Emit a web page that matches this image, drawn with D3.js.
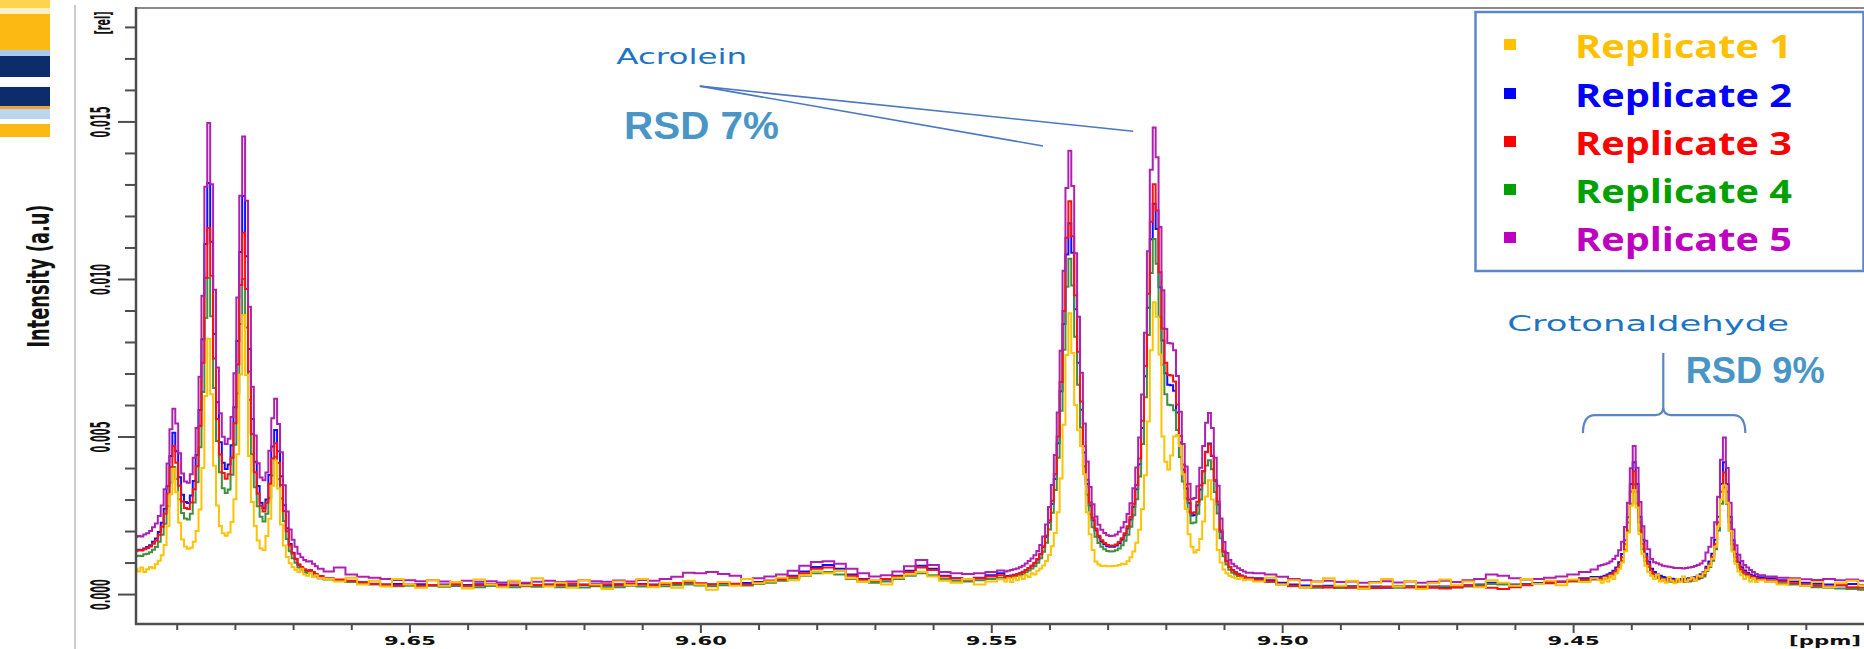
<!DOCTYPE html>
<html><head><meta charset="utf-8">
<script src="https://cdn.jsdelivr.net/npm/d3@7"></script>
<style>html,body{margin:0;padding:0;background:#fff;overflow:hidden}svg{display:block}</style>
</head><body>
<svg id="chart" width="1864" height="649"></svg>
<script>
// ---------------- DATA ----------------
// chemical shift grid [ppm]
const ppm = [
9.697,9.6965,9.696,9.6955,9.695,9.6945,9.694,9.6935,9.693,9.6925,9.692,9.6915,9.691,9.6905,9.69,9.6895,9.689,9.6885,9.688,9.6875,9.687,9.6865,9.686,9.6855,9.685,9.6845,9.684,9.6835,9.683,9.6825,9.682,9.6815,9.681,9.6805,9.68,9.6795,9.679,9.6785,9.678,9.6775,9.677,9.6765,9.676,9.6755,9.675,9.6745,9.674,9.6735,9.673,9.6725,9.672,9.6715,9.671,9.6705,9.67,9.6695,9.669,9.6685,9.668,9.6675,9.667,9.6665,9.666,9.6655,
9.664,9.662,9.66,9.658,9.656,9.654,9.652,9.65,9.648,9.646,9.644,9.642,9.64,9.638,9.636,9.634,9.632,9.63,9.628,9.626,9.624,9.622,9.62,9.618,9.616,9.614,9.612,9.61,9.608,9.606,9.604,9.602,9.6,9.598,9.596,9.594,9.592,9.59,9.588,9.586,9.584,9.582,9.58,9.578,9.576,9.574,9.572,9.57,9.568,9.566,9.564,9.562,9.56,9.558,9.556,9.554,9.552,9.55,9.548,
9.5475,9.547,9.5465,9.546,9.5455,9.545,9.5445,9.544,9.5435,9.543,9.5425,9.542,9.5415,9.541,9.5405,9.54,9.5395,9.539,9.5385,9.538,9.5375,9.537,9.5365,9.536,9.5355,9.535,9.5345,9.534,9.5335,9.533,9.5325,9.532,9.5315,9.531,9.5305,9.53,9.5295,9.529,9.5285,9.528,9.5275,9.527,9.5265,9.526,9.5255,9.525,9.5245,9.524,9.5235,9.523,9.5225,9.522,9.5215,9.521,9.5205,9.52,9.5195,9.519,9.5185,9.518,9.5175,9.517,9.5165,9.516,9.5155,9.515,9.5145,9.514,9.5135,9.513,9.5125,9.512,9.5115,9.511,9.5105,9.51,9.5095,9.509,9.5085,9.508,9.5075,9.507,9.5065,9.506,
9.504,9.502,9.5,9.498,9.496,9.494,9.492,9.49,9.488,9.486,9.484,9.482,9.48,9.478,9.476,9.474,9.472,9.47,9.468,9.466,9.464,9.462,9.46,9.458,9.456,9.454,9.452,9.45,9.448,9.446,
9.4455,9.445,9.4445,9.444,9.4435,9.443,9.4425,9.442,9.4415,9.441,9.4405,9.44,9.4395,9.439,9.4385,9.438,9.4375,9.437,9.4365,9.436,9.4355,9.435,9.4345,9.434,9.4335,9.433,9.4325,9.432,9.4315,9.431,9.4305,9.43,9.4295,9.429,9.4285,9.428,9.4275,9.427,9.4265,9.426,9.4255,9.425,9.4245,9.424,9.4235,9.423,9.4225,9.422,9.4215,9.421,9.4205,9.42,9.4195,9.419,9.4185,9.418,
9.416,9.414,9.412,9.41,9.408,9.406,9.404,9.402,9.4
];

// intensities, stored in units of 1e-5 [rel]
const INTENSITY_UNIT = 1e-5;

const replicate1 = [ // yellow
80,72,84,70,79,86,82,95,106,123,156,215,317,398,323,226,173,151,144,147,166,200,268,400,629,810,634,407,281,216,193,185,195,229,301,444,697,886,695,438,292,216,170,145,140,184,239,344,424,335,221,154,118,98,86,76,70,80,62,58,68,54,60,51,
48,40,52,30,42,24,48,30,20,44,26,38,18,46,30,22,42,28,50,24,36,20,44,30,16,40,28,48,22,36,20,42,30,14,38,26,48,34,40,52,44,60,72,66,74,50,38,44,30,52,62,70,56,42,36,48,30,40,46,
40,50,38,52,44,56,48,60,54,66,62,74,81,91,105,124,152,194,260,367,537,759,891,765,600,520,470,380,260,190,140,103,94,89,90,88,88,89,90,92,96,95,104,117,135,163,204,270,377,548,774,926,880,760,500,420,395,440,500,505,470,380,270,190,150,132,140,175,230,310,361,300,205,140,100,78,66,58,54,50,48,52,44,46,
40,52,30,44,22,38,50,26,42,18,36,48,24,40,16,34,46,28,40,22,44,36,26,48,32,42,28,46,38,50,
44,36,52,40,58,48,66,80,100,136,195,280,330,275,190,128,90,70,58,48,62,40,46,36,54,42,34,48,38,56,40,46,52,44,58,56,66,76,90,112,150,215,300,345,290,200,135,96,72,60,48,56,40,50,38,44,
40,30,46,26,38,22,34,42,28
];
const replicate2 = [ // blue
138,141,140,145,149,155,166,176,197,226,271,342,438,512,453,371,315,292,289,313,359,441,584,809,1111,1305,1118,825,609,482,417,397,411,472,593,803,1086,1263,1072,778,556,420,343,290,272,300,378,468,521,453,374,282,209,159,131,111,92,82,75,70,71,64,57,50,
48,44,40,36,33,30,32,28,31,27,30,26,29,31,27,30,28,32,29,27,31,28,30,33,29,31,28,32,30,34,31,36,33,30,34,31,35,38,42,48,58,72,86,92,80,62,48,40,46,58,74,90,80,58,50,48,52,60,66,
56,57,59,61,63,66,71,76,83,90,98,110,126,149,181,227,286,365,479,644,857,1078,1177,1083,904,734,585,449,349,281,234,202,180,166,158,152,150,150,154,161,172,187,208,237,277,333,412,527,691,909,1126,1239,1159,974,805,701,664,663,645,576,481,395,335,289,249,251,282,332,390,452,478,438,359,284,197,134,104,86,76,69,64,59,56,52,
50,44,36,30,27,24,26,22,25,21,24,20,23,25,22,24,21,25,28,30,36,34,30,32,35,38,40,44,50,54,
53,55,58,62,67,74,84,101,127,171,244,349,418,349,245,172,128,103,80,70,63,58,54,52,50,49,48,48,48,48,49,50,52,54,58,63,69,87,103,128,172,245,349,418,349,245,171,127,101,85,75,68,62,58,55,53,
50,44,40,36,33,30,28,32,29
];
const replicate3 = [ // red
136,139,138,142,146,151,160,170,188,214,255,318,403,470,417,344,294,273,270,291,333,406,533,734,1004,1162,1010,748,556,443,384,366,380,433,542,729,981,1147,968,706,508,387,319,280,262,290,350,430,479,416,346,264,199,155,129,112,95,86,79,75,76,70,64,57,
50,46,42,38,32,30,27,30,26,29,27,31,26,28,32,27,30,26,29,31,28,33,29,27,31,28,33,30,27,32,35,38,34,31,36,33,30,36,42,46,56,66,80,84,74,58,46,42,48,56,70,84,76,56,50,46,50,56,60,
54,55,57,60,62,65,70,76,83,90,99,111,128,152,186,234,296,380,500,673,898,1131,1247,1136,948,769,611,469,363,291,242,208,185,171,162,156,153,154,157,165,177,193,215,245,287,346,430,550,724,953,1182,1301,1217,1021,843,734,695,694,675,602,502,411,348,300,257,260,293,345,390,450,475,440,362,294,202,136,105,86,75,68,63,57,54,50,
46,40,32,26,22,25,21,24,20,23,19,22,25,21,24,20,18,22,26,24,20,16,22,28,32,34,38,42,46,48,
48,50,53,57,61,68,77,93,117,158,227,325,390,325,228,159,118,95,72,63,56,51,48,46,44,43,42,42,42,42,43,44,46,48,51,56,62,80,95,118,159,228,325,386,325,228,158,117,93,78,69,62,57,53,50,48,
44,40,34,30,26,24,28,22,20
];
const replicate4 = [ // green
120,122,121,126,128,133,141,149,166,188,223,279,353,403,365,301,257,240,237,255,291,355,466,641,876,1004,882,654,486,387,336,321,332,379,474,637,857,1000,846,617,444,339,279,245,230,255,306,376,436,364,303,232,175,136,114,99,84,77,70,67,68,62,57,51,
46,42,38,34,30,28,25,27,24,26,23,27,24,22,26,24,22,25,23,26,22,24,21,25,23,22,26,24,27,25,28,30,27,25,28,30,27,32,36,42,50,58,66,70,62,48,40,36,40,48,58,66,60,48,42,40,44,48,52,
50,51,53,55,57,60,63,69,75,81,88,99,114,134,163,205,258,330,433,582,775,975,1064,979,817,664,529,406,315,253,212,182,162,150,142,137,135,136,139,145,155,169,188,214,250,301,373,476,625,822,1019,1127,1048,880,728,634,601,599,583,521,435,357,303,261,225,227,255,300,352,408,425,396,324,256,177,120,94,77,68,62,57,53,50,47,
44,38,30,25,22,20,23,19,22,18,21,24,20,23,19,22,25,21,24,28,32,30,27,30,33,36,38,40,44,46,
45,46,49,52,56,62,70,84,105,141,201,287,348,287,202,142,106,86,65,56,51,47,43,42,40,39,38,38,38,38,39,40,42,43,47,51,56,73,86,106,142,202,287,339,287,202,141,105,84,71,63,57,52,49,46,45,
40,34,30,26,22,20,18,16,14
];
const replicate5 = [ // purple
181,184,183,189,193,200,212,224,248,281,333,414,523,588,541,447,383,357,353,380,433,527,690,947,1293,1495,1301,966,719,574,499,476,493,562,701,941,1264,1452,1248,912,658,503,415,370,361,386,455,558,620,540,450,345,262,205,172,150,128,117,108,103,104,96,88,80,
72,84,62,55,52,48,45,44,41,44,40,38,42,39,41,37,40,36,39,42,38,40,44,41,39,43,40,45,42,48,55,68,66,70,64,58,48,50,56,62,74,90,102,104,96,80,66,56,60,72,88,108,92,70,66,64,66,70,75,
72,74,76,79,81,85,90,97,105,113,123,137,156,183,221,276,346,441,576,772,1026,1289,1407,1295,1082,880,702,541,421,340,285,246,220,204,194,187,184,185,189,198,211,229,254,288,336,402,497,633,829,1088,1347,1481,1386,1165,964,841,797,795,774,692,579,476,405,350,302,305,342,401,470,544,575,527,433,344,240,165,130,108,96,88,82,76,72,68,
66,62,55,48,44,40,42,38,40,36,38,41,37,40,36,39,42,38,44,48,62,58,50,46,48,52,56,62,70,78,
90,92,95,98,103,111,122,139,166,213,290,399,470,401,292,215,169,142,111,101,98,94,90,88,87,85,83,83,83,81,83,84,86,89,92,97,106,132,150,179,228,309,426,497,400,290,205,155,125,105,92,84,76,70,64,60,
56,52,50,47,45,48,44,46,42
];

const seriesNames = ["Replicate 1","Replicate 2","Replicate 3","Replicate 4","Replicate 5"];
const seriesValues = [replicate1, replicate2, replicate3, replicate4, replicate5];
const lineColors = ["#ffc200","#1010ff","#ff1010","#3f8f3f","#b020b0"];
const legendColors = ["#ffc000","#0000ff","#ff0000","#00a000","#c000c0"];
const drawOrder = [1, 3, 2, 4, 0];

const yMajorTicks = [0, 0.005, 0.010, 0.015];
const yMinorTicks = [0.001,0.002,0.003,0.004,0.006,0.007,0.008,0.009,0.011,0.012,0.013,0.014,0.016,0.017,0.018];
const xMajorTicks = [9.65, 9.60, 9.55, 9.50, 9.45];
const xMinorTicks = [9.69,9.68,9.67,9.66,9.64,9.63,9.62,9.61,9.59,9.58,9.57,9.56,9.54,9.53,9.52,9.51,9.49,9.48,9.47,9.46,9.44,9.43,9.42,9.41];

// annotations (data coordinates: ppm, rel)
const acrolein = {label:"Acrolein", rsd:"RSD 7%", labelAt:[9.6032,0.01682], rsdAt:[9.5998,0.01444],
                  from:[9.6001,0.01612], to:[[9.5411,0.01422],[9.5256,0.01469]]};
const crotonaldehyde = {label:"Crotonaldehyde", rsd:"RSD 9%", labelAt:[9.4371,0.00835], rsdAt:[9.4187,0.0067],
                  left:9.4483, right:9.4204, mid:9.4345, bottom:0.00511, bar:0.00568, top:0.00765};

[replicate1,replicate2,replicate3,replicate4,replicate5].forEach((s,i)=>{ if(s.length!==ppm.length) console.warn("length mismatch", i, s.length, ppm.length); });

// ---------------- DRAW ----------------
const svg = d3.select("#chart");
const plot = {left:136, right:1864, top:8, bottom:624};
const x = d3.scaleLinear().domain([9.697, 9.400]).range([plot.left, plot.right]);
const y = d3.scaleLinear().domain([-0.00095, 0.0186]).range([plot.bottom, plot.top]);

// left decorative stripes
const stripes = [[0,8,"#ffd34d"],[8,14,"#fff1c4"],[14,50,"#fdb913"],[50,56,"#a9c9e8"],[56,77,"#0d2c6c"],[77,87,"#ffffff"],[87,106,"#0d2c6c"],[106,109,"#f2a33a"],[109,119,"#bcd6ee"],[119,124,"#ffffff"],[124,137,"#fdb913"]];
svg.append("g").selectAll("rect").data(stripes).join("rect")
  .attr("x",0).attr("width",50).attr("y",d=>d[0]).attr("height",d=>d[1]-d[0]).attr("fill",d=>d[2]);
svg.append("line").attr("x1",75).attr("x2",75).attr("y1",5).attr("y2",649).attr("stroke","#bdbdbd").attr("stroke-width",1.5);

const narrowFont = "'DejaVu Sans Condensed','Liberation Sans Narrow','Liberation Sans',sans-serif";

// y-axis title
svg.append("text").attr("transform","translate(49,276) rotate(-90)")
  .attr("text-anchor","middle").attr("font-family",narrowFont).attr("font-weight","bold")
  .attr("font-size",30).attr("fill","#111").attr("textLength",143).attr("lengthAdjust","spacingAndGlyphs")
  .text("Intensity (a.u)");

// clip
svg.append("defs").append("clipPath").attr("id","plotclip").append("rect")
  .attr("x",plot.left+1).attr("y",plot.top).attr("width",plot.right-plot.left).attr("height",plot.bottom-plot.top-1);

// spectra
const line = d3.line().x((d,i)=>x(ppm[i])).y(d=>y(d*INTENSITY_UNIT)).curve(d3.curveStep);
const gLines = svg.append("g").attr("clip-path","url(#plotclip)");
drawOrder.forEach(si=>{
  gLines.append("path").datum(seriesValues[si]).attr("d",line)
    .attr("fill","none").attr("stroke",lineColors[si]).attr("stroke-width",2).attr("stroke-linejoin","miter");
});

// axes
const axisColor = "#4d4d4d";
const gy = svg.append("g").attr("transform",`translate(${plot.left},0)`);
gy.call(d3.axisLeft(y).tickValues(yMinorTicks).tickSize(11).tickSizeOuter(0).tickFormat(""));
gy.select(".domain").remove();
const gy2 = svg.append("g").attr("transform",`translate(${plot.left},0)`);
gy2.call(d3.axisLeft(y).tickValues(yMajorTicks).tickSize(18).tickSizeOuter(0).tickFormat(d3.format(".3f")));
gy2.select(".domain").remove();
gy2.selectAll("text").attr("x",null).attr("dy",null).attr("text-anchor","middle")
  .attr("transform","translate(-26,0) rotate(-90)")
  .attr("font-family",narrowFont).attr("font-weight","bold").attr("font-size",26).attr("fill","#111")
  .attr("textLength",31).attr("lengthAdjust","spacingAndGlyphs");
[gy,gy2].forEach(g=>g.selectAll(".tick line").attr("stroke",axisColor).attr("stroke-width",2));
svg.append("text").attr("transform",`translate(${plot.left-26},23) rotate(-90) scale(1,1.4)`).attr("text-anchor","middle")
  .attr("font-family",narrowFont).attr("font-weight","bold").attr("font-size",15).attr("fill","#111")
  .attr("textLength",23).attr("lengthAdjust","spacingAndGlyphs").text("[rel]");

const gx = svg.append("g").attr("transform",`translate(0,${plot.bottom})`);
gx.call(d3.axisBottom(x).tickValues(xMinorTicks).tickSize(6).tickSizeOuter(0).tickFormat(""));
gx.select(".domain").remove();
const gx2 = svg.append("g").attr("transform",`translate(0,${plot.bottom})`);
gx2.call(d3.axisBottom(x).tickValues(xMajorTicks).tickSize(9).tickSizeOuter(0).tickFormat(d3.format(".2f")));
gx2.select(".domain").remove();
gx2.selectAll("text").attr("y",21).attr("dy",null)
  .attr("font-family","'DejaVu Sans',sans-serif").attr("font-weight","bold").attr("font-size",13).attr("fill","#111")
  .attr("textLength",52).attr("lengthAdjust","spacingAndGlyphs");
[gx,gx2].forEach(g=>g.selectAll(".tick line").attr("stroke",axisColor).attr("stroke-width",2));
svg.append("text").attr("x",1825).attr("y",plot.bottom+21).attr("text-anchor","middle")
  .attr("font-family","'DejaVu Sans',sans-serif").attr("font-weight","bold").attr("font-size",13).attr("fill","#111")
  .attr("textLength",72).attr("lengthAdjust","spacingAndGlyphs").text("[ppm]");

// frame
svg.append("line").attr("x1",plot.left).attr("x2",plot.right).attr("y1",plot.top).attr("y2",plot.top).attr("stroke","#8a8a8a").attr("stroke-width",2);
svg.append("line").attr("x1",plot.left).attr("x2",plot.left).attr("y1",plot.top-1).attr("y2",plot.bottom+1).attr("stroke",axisColor).attr("stroke-width",2.5);
svg.append("line").attr("x1",plot.left-1).attr("x2",plot.right).attr("y1",plot.bottom).attr("y2",plot.bottom).attr("stroke",axisColor).attr("stroke-width",2.5);

// annotations
const labelFont = "'DejaVu Sans',Verdana,sans-serif";
const rsdFont = "'Liberation Sans',Arial,sans-serif";
const labelColor = "#1c74c2", rsdColor = "#4996c6", pointerColor = "#4a78c2";
function label(txt,at,len){
  svg.append("text").attr("x",x(at[0])).attr("y",y(at[1])).attr("text-anchor","middle")
    .attr("font-family",labelFont).attr("font-size",22).attr("fill",labelColor)
    .attr("textLength",len).attr("lengthAdjust","spacingAndGlyphs").text(txt);
}
function rsd(txt,at,len,size){
  svg.append("text").attr("x",x(at[0])).attr("y",y(at[1])).attr("text-anchor","middle")
    .attr("font-family",rsdFont).attr("font-weight","bold").attr("font-size",size).attr("fill",rsdColor)
    .attr("textLength",len).attr("lengthAdjust","spacingAndGlyphs").text(txt);
}
label(acrolein.label, acrolein.labelAt, 131);
rsd(acrolein.rsd, acrolein.rsdAt, 155, 39);
acrolein.to.forEach(t=>{
  svg.append("line").attr("x1",x(acrolein.from[0])).attr("y1",y(acrolein.from[1]))
    .attr("x2",x(t[0])).attr("y2",y(t[1])).attr("stroke",pointerColor).attr("stroke-width",1.6);
});
label(crotonaldehyde.label, crotonaldehyde.labelAt, 282);
rsd(crotonaldehyde.rsd, crotonaldehyde.rsdAt, 139, 36);
{
  const c = crotonaldehyde;
  const xl = x(c.left), xr = x(c.right), xm = x(c.mid), yb = y(c.bottom), yh = y(c.bar), yt = y(c.top);
  const p = d3.path();
  p.moveTo(xl, yb); p.quadraticCurveTo(xl, yh, xl+12, yh); p.lineTo(xm-8, yh);
  p.quadraticCurveTo(xm, yh, xm, yh-8); p.lineTo(xm, yt);
  p.moveTo(xm, yh-8); p.quadraticCurveTo(xm, yh, xm+8, yh); p.lineTo(xr-12, yh);
  p.quadraticCurveTo(xr, yh, xr, yb);
  svg.append("path").attr("d",p.toString()).attr("fill","none").attr("stroke","#5a86c2").attr("stroke-width",2.2);
}

// legend
const lg = svg.append("g");
lg.append("rect").attr("x",1475.5).attr("y",12).attr("width",388).attr("height",259)
  .attr("fill","#fff").attr("stroke","#5b87c6").attr("stroke-width",2.5);
const rowBase = [58,107,155,203,251];
seriesNames.forEach((n,i)=>{
  lg.append("rect").attr("x",1504).attr("y",rowBase[i]-19).attr("width",12).attr("height",11).attr("fill",legendColors[i]);
  lg.append("text").attr("x",1575).attr("y",rowBase[i]).attr("font-family","'Open Sans',Lato,sans-serif")
    .attr("font-weight","bold").attr("font-size",32).attr("fill",legendColors[i])
    .attr("textLength",217).attr("lengthAdjust","spacingAndGlyphs").text(n);
});
</script>
</body></html>
